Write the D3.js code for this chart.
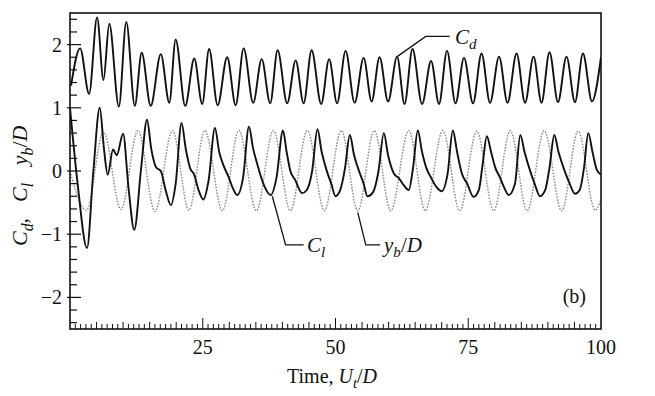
<!DOCTYPE html>
<html>
<head>
<meta charset="utf-8">
<script src="https://cdn.jsdelivr.net/npm/d3@7"></script>
<style>
  body { margin: 0; background: #fff; }
  svg { display: block; }
  text { font-family: "Liberation Serif", "DejaVu Serif", serif; fill: #111; }
</style>
</head>
<body>
<div id="chart"></div>
<script>
// values: [time, value]
const xTicks = [25, 50, 75, 100]
const yTicks = [-2, -1, 0, 1, 2]

const cdPoints = [
  [0.2, 1.35], [1.9, 1.94], [3.6, 1.22], [5.1, 2.43], [6.3, 1.44], [7.4, 2.33], [9.2, 1.02],
  [10.6, 2.36], [12.2, 1.03], [13.5, 1.87], [15.2, 1.03], [17.1, 1.85], [18.7, 1.08], [19.9, 2.08],
  [21.7, 1.03], [23.4, 1.78], [24.9, 1.06], [26.2, 1.93], [27.8, 1.04], [29.6, 1.8], [31.2, 1.04],
  [32.7, 1.94], [34.5, 1.08], [36.1, 1.77], [37.7, 1.07], [39.1, 1.91], [40.9, 1.07], [42.5, 1.75],
  [44.0, 1.07], [45.5, 1.91], [47.3, 1.06], [48.8, 1.77], [50.3, 1.07], [51.9, 1.9], [53.6, 1.08],
  [55.3, 1.79], [56.8, 1.1], [58.3, 1.8], [59.9, 1.1], [61.6, 1.81], [63.0, 1.06], [64.5, 1.93],
  [66.3, 1.06], [68.0, 1.74], [69.5, 1.06], [71.0, 1.9], [72.6, 1.07], [74.2, 1.79], [75.9, 1.07],
  [77.5, 1.86], [79.1, 1.08], [80.8, 1.81], [82.4, 1.08], [84.1, 1.86], [85.7, 1.08], [87.3, 1.81],
  [88.8, 1.08], [90.3, 1.88], [91.9, 1.09], [93.5, 1.81], [95.1, 1.09], [96.6, 1.86], [98.3, 1.1],
  [100, 1.8]
]

const clPoints = [
  [0.0, 1.0], [1.5, -0.25], [3.2, -1.22], [4.4, 0.0], [5.6, 1.0], [6.4, 0.35], [7.1, -0.06],
  [8.1, 0.34], [8.8, 0.25], [10.0, 0.59], [11.0, -0.25], [12.1, -0.93], [13.4, 0.05], [14.5, 0.81],
  [15.3, 0.35], [16.2, 0.06], [17.1, 0.0], [18.0, -0.3], [19.0, -0.54], [19.9, -0.2], [21.0, 0.76],
  [21.8, 0.35], [22.6, 0.05], [23.4, -0.06], [24.2, -0.3], [25.1, -0.45], [26.1, -0.15], [27.3, 0.68],
  [28.1, 0.3], [29.0, 0.07], [29.9, -0.1], [30.7, -0.28], [31.5, -0.38], [32.6, -0.1], [33.7, 0.7],
  [34.5, 0.35], [35.3, 0.1], [36.5, -0.22], [37.8, -0.38], [38.9, -0.1], [40.1, 0.64],
  [40.8, 0.3], [41.5, 0.0], [42.4, -0.14], [43.7, -0.35], [44.6, -0.3], [45.6, 0.0], [46.6, 0.66],
  [47.4, 0.3], [48.4, -0.01], [49.2, -0.2], [50.0, -0.4], [50.9, -0.3], [51.8, 0.05], [52.7, 0.57],
  [53.5, 0.25], [54.6, -0.04], [55.3, -0.2], [56.0, -0.4], [57.1, -0.33], [58.1, 0.0], [59.1, 0.6],
  [59.9, 0.25], [61.0, -0.04], [62.0, -0.12], [62.8, -0.22], [63.8, -0.3], [64.6, 0.05], [65.5, 0.64],
  [66.3, 0.3], [67.1, 0.05], [67.9, -0.09], [69.0, -0.25], [70.0, -0.32], [71.1, -0.05], [72.1, 0.64],
  [72.9, 0.3], [73.8, -0.04], [74.8, -0.2], [76.0, -0.41], [77.0, -0.3], [77.7, 0.1], [78.5, 0.55],
  [79.3, 0.3], [80.1, 0.05], [80.9, -0.09], [81.7, -0.25], [82.6, -0.38], [83.8, -0.2], [84.8, 0.57],
  [85.6, 0.3], [86.7, -0.01], [87.5, -0.2], [88.5, -0.4], [89.5, -0.3], [90.3, 0.05], [91.2, 0.57],
  [92.0, 0.3], [93.2, -0.01], [94.1, -0.2], [95.1, -0.36], [96.0, -0.3], [96.8, 0.05], [97.6, 0.6],
  [98.4, 0.3], [99.2, 0.02], [100, -0.06]
]

const ybPoints = [
  [0.0, 0.0], [3.1, -0.62], [6.3, 0.62], [9.6, -0.61], [12.8, 0.64], [16.0, -0.64], [19.3, 0.64],
  [22.4, -0.62], [25.4, 0.64], [28.7, -0.63], [31.8, 0.64], [35.1, -0.63], [38.3, 0.64], [41.5, -0.63],
  [44.7, 0.64], [47.9, -0.63], [51.1, 0.64], [54.2, -0.63], [57.3, 0.64], [60.4, -0.63], [63.8, 0.64],
  [66.9, -0.63], [70.2, 0.64], [73.4, -0.63], [76.6, 0.63], [79.8, -0.63], [82.9, 0.64], [86.1, -0.63],
  [89.3, 0.64], [92.6, -0.63], [95.7, 0.63], [98.9, -0.62], [100, -0.45]
]

const width = 655
const height = 396
const plot = { left: 70, right: 601, top: 13, bottom: 329 }

const svg = d3.select('#chart').append('svg')
  .attr('width', width)
  .attr('height', height)

const x = d3.scaleLinear().domain([0, 100]).range([plot.left, plot.right])
const y = d3.scaleLinear().domain([-2.5, 2.5]).range([plot.bottom, plot.top])

svg.append('clipPath').attr('id', 'clip')
  .append('rect')
  .attr('x', plot.left).attr('y', plot.top)
  .attr('width', plot.right - plot.left).attr('height', plot.bottom - plot.top)

const line = d3.line()
  .x(d => x(d[0]))
  .y(d => y(d[1]))
  .curve(d3.curveMonotoneX)

const g = svg.append('g').attr('clip-path', 'url(#clip)')

g.append('path').datum(ybPoints)
  .attr('d', line)
  .attr('fill', 'none')
  .attr('stroke', '#8a8a8a')
  .attr('stroke-width', 1.4)
  .attr('stroke-dasharray', '1.6,1.4')

g.append('path').datum(clPoints)
  .attr('d', line)
  .attr('fill', 'none')
  .attr('stroke', '#111')
  .attr('stroke-width', 1.9)

g.append('path').datum(cdPoints)
  .attr('d', line)
  .attr('fill', 'none')
  .attr('stroke', '#111')
  .attr('stroke-width', 1.9)

// frame
svg.append('rect')
  .attr('x', plot.left).attr('y', plot.top)
  .attr('width', plot.right - plot.left).attr('height', plot.bottom - plot.top)
  .attr('fill', 'none').attr('stroke', '#111').attr('stroke-width', 1.6)

// bottom axis, ticks pointing inward
const xAxis = svg.append('g').attr('transform', `translate(0,${plot.bottom})`)
xAxis.selectAll('line.minor')
  .data(d3.range(1, 100))
  .enter().append('line')
  .attr('x1', d => x(d)).attr('x2', d => x(d))
  .attr('y1', 0).attr('y2', d => d % 25 === 0 ? -11 : (d % 5 === 0 ? -7 : -5))
  .attr('stroke', '#111').attr('stroke-width', 1)
xAxis.selectAll('text')
  .data(xTicks)
  .enter().append('text')
  .attr('x', d => x(d)).attr('y', 25)
  .attr('text-anchor', 'middle')
  .style('font-size', '20px')
  .text(d => d)

// left axis
const yAxis = svg.append('g').attr('transform', `translate(${plot.left},0)`)
yAxis.selectAll('line')
  .data(d3.range(-24, 25, 2).map(d => d / 10))
  .enter().append('line')
  .attr('y1', d => y(d)).attr('y2', d => y(d))
  .attr('x1', d => Number.isInteger(d) ? -3 : 0)
  .attr('x2', d => Number.isInteger(d) ? 11 : 7)
  .attr('stroke', '#111').attr('stroke-width', 1.2)
yAxis.selectAll('text')
  .data(yTicks)
  .enter().append('text')
  .attr('x', -8).attr('y', d => y(d) + 7)
  .attr('text-anchor', 'end')
  .style('font-size', '20px')
  .text(d => d < 0 ? '\u2212' + Math.abs(d) : d)

// rich text with italic letters and subscripts
function richText(sel, parts, size) {
  parts.forEach(p => {
    sel.append('tspan')
      .attr('font-style', p.i ? 'italic' : 'normal')
      .attr('dy', p.sub ? size * 0.25 : (p.back ? -size * 0.25 : 0))
      .attr('dx', p.gap || 0)
      .style('font-size', p.sub ? (size * 0.72) + 'px' : size + 'px')
      .text(p.t)
  })
}

richText(svg.append('text').attr('x', 287).attr('y', 383), [
  { t: 'Time, ' }, { t: 'U', i: true }, { t: 't', i: true, sub: true }, { t: '/', back: true }, { t: 'D', i: true }
], 20)

richText(svg.append('text').attr('transform', 'translate(27,246) rotate(-90)'), [
  { t: 'C', i: true }, { t: 'd', i: true, sub: true }, { t: ',', back: true },
  { t: 'C', i: true, gap: 16 }, { t: 'l', i: true, sub: true }, { t: ' ', back: true },
  { t: 'y', i: true, gap: 12 }, { t: 'b', i: true, sub: true }, { t: '/', back: true }, { t: 'D', i: true }
], 22)

// annotations
const leaders = [
  [[61.6, 1.81], [67.0, 2.13], [71.5, 2.13]],
  [[38.1, -0.4], [40.6, -1.17], [44.0, -1.17]],
  [[54.2, -0.66], [55.7, -1.17], [58.4, -1.17]]
]
svg.selectAll('path.leader')
  .data(leaders)
  .enter().append('path')
  .attr('d', d3.line().x(d => x(d[0])).y(d => y(d[1])))
  .attr('fill', 'none').attr('stroke', '#111').attr('stroke-width', 1.3)

richText(svg.append('text').attr('x', 455).attr('y', 44), [
  { t: 'C', i: true }, { t: 'd', i: true, sub: true }
], 21)
richText(svg.append('text').attr('x', 307).attr('y', 252), [
  { t: 'C', i: true }, { t: 'l', i: true, sub: true }
], 21)
richText(svg.append('text').attr('x', 384).attr('y', 252), [
  { t: 'y', i: true }, { t: 'b', i: true, sub: true }, { t: '/', back: true }, { t: 'D', i: true }
], 21)

svg.append('text').attr('x', 586).attr('y', 303)
  .attr('text-anchor', 'end')
  .style('font-size', '20px')
  .text('(b)')
</script>
</body>
</html>
